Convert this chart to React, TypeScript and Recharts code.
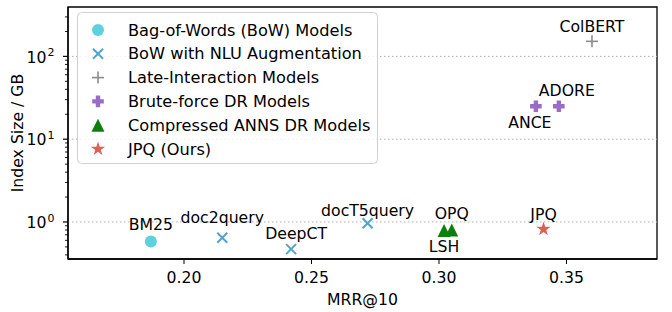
import React from 'react';
import {
  ScatterChart,
  Scatter,
  XAxis,
  YAxis,
  ReferenceLine,
  ReferenceArea,
  Legend,
} from 'recharts';

// values
const bowModels = ['BM25'];
const bowMrr = [0.187];
const bowIndexGB = [0.58];

const nluModels = ['doc2query', 'DeepCT', 'docT5query'];
const nluMrr = [0.215, 0.242, 0.272];
const nluIndexGB = [0.645, 0.47, 0.965];

const lateModels = ['ColBERT'];
const lateMrr = [0.36];
const lateIndexGB = [152];

const bruteModels = ['ANCE', 'ADORE'];
const bruteMrr = [0.338, 0.347];
const bruteIndexGB = [25, 25];

const annsModels = ['LSH', 'OPQ'];
const annsMrr = [0.302, 0.305];
const annsIndexGB = [0.79, 0.8];

const jpqModels = ['JPQ'];
const jpqMrr = [0.341];
const jpqIndexGB = [0.82];

const xTicks = [0.2, 0.25, 0.3, 0.35];
const yMajorTicks = [1, 10, 100];
const yMinorTicks = [0.4, 0.5, 0.6, 0.7, 0.8, 0.9, 2, 3, 4, 5, 6, 7, 8, 9, 20, 30, 40, 50, 60, 70, 80, 90, 200, 300];

const xDomain = [0.1545, 0.3855];
const yDomain = [0.357, 395];

const FONT = '"DejaVu Sans", sans-serif';
const FS = 15.7;
const LEGEND_FS = 16.2;

// where each annotation sits relative to its marker (px)
const labelNudge: { [name: string]: [number, number] } = {
  BM25: [0, -17.5],
  doc2query: [0, -20],
  DeepCT: [5, -16],
  docT5query: [0, -13],
  ColBERT: [0, -15],
  ANCE: [-6, 16.5],
  ADORE: [8, -15.5],
  LSH: [0, 16.5],
  OPQ: [0, -16],
  JPQ: [0, -14.5],
};

type Kind = 'circle' | 'x' | 'plus' | 'plusFilled' | 'triangle' | 'star';

const toPoints = (names: string[], xs: number[], ys: number[]) =>
  names.map((name, i) => ({ name, mrr: xs[i], size: ys[i] }));

const series = [
  { label: 'Bag-of-Words (BoW) Models', kind: 'circle' as Kind, color: '#5dd1dd', data: toPoints(bowModels, bowMrr, bowIndexGB) },
  { label: 'BoW with NLU Augmentation', kind: 'x' as Kind, color: '#4fa6c9', data: toPoints(nluModels, nluMrr, nluIndexGB) },
  { label: 'Late-Interaction Models', kind: 'plus' as Kind, color: '#8c8c8c', data: toPoints(lateModels, lateMrr, lateIndexGB) },
  { label: 'Brute-force DR Models', kind: 'plusFilled' as Kind, color: '#9a6dc4', data: toPoints(bruteModels, bruteMrr, bruteIndexGB) },
  { label: 'Compressed ANNS DR Models', kind: 'triangle' as Kind, color: '#0b800b', data: toPoints(annsModels, annsMrr, annsIndexGB) },
  { label: 'JPQ (Ours)', kind: 'star' as Kind, color: '#dd5f58', data: toPoints(jpqModels, jpqMrr, jpqIndexGB) },
];

function Marker({ kind, cx, cy, color }: { kind: Kind; cx: number; cy: number; color: string }) {
  switch (kind) {
    case 'circle':
      return <circle cx={cx} cy={cy} r={6} fill={color} />;
    case 'x': {
      const h = 5;
      return (
        <g stroke={color} strokeWidth={2}>
          <line x1={cx - h} y1={cy - h} x2={cx + h} y2={cy + h} />
          <line x1={cx - h} y1={cy + h} x2={cx + h} y2={cy - h} />
        </g>
      );
    }
    case 'plus': {
      const h = 6;
      return (
        <g stroke={color} strokeWidth={1.6}>
          <line x1={cx - h} y1={cy} x2={cx + h} y2={cy} />
          <line x1={cx} y1={cy - h} x2={cx} y2={cy + h} />
        </g>
      );
    }
    case 'plusFilled': {
      const a = 5.8;
      const b = 2.2;
      const pts = [
        [-b, -a], [b, -a], [b, -b], [a, -b], [a, b], [b, b],
        [b, a], [-b, a], [-b, b], [-a, b], [-a, -b], [-b, -b],
      ].map(([px, py]) => `${cx + px},${cy + py}`).join(' ');
      return <polygon points={pts} fill={color} />;
    }
    case 'triangle': {
      const h = 6.5;
      return <polygon points={`${cx},${cy - h} ${cx - h},${cy + h} ${cx + h},${cy + h}`} fill={color} />;
    }
    case 'star': {
      const R = 7.5;
      const r = R * 0.382;
      const pts: string[] = [];
      for (let i = 0; i < 10; i++) {
        const ang = (Math.PI / 5) * i - Math.PI / 2;
        const rad = i % 2 === 0 ? R : r;
        pts.push(`${cx + rad * Math.cos(ang)},${cy + rad * Math.sin(ang)}`);
      }
      return <polygon points={pts.join(' ')} fill={color} />;
    }
  }
  return null;
}

const makeShape = (kind: Kind, color: string) => (props: any) => {
  const { cx, cy, payload } = props;
  const nudge = labelNudge[payload.name] || [0, -15];
  return (
    <g>
      <Marker kind={kind} cx={cx} cy={cy} color={color} />
      <text
        x={cx + nudge[0]}
        y={cy + nudge[1]}
        textAnchor="middle"
        dominantBaseline="central"
        fontSize={FS}
        fontFamily={FONT}
        fill="#000"
      >
        {payload.name}
      </text>
    </g>
  );
};

const YTick = (props: any) => {
  const { x, y, payload } = props;
  const lg = Math.log10(payload.value);
  const exp = Math.round(lg);
  const major = Math.abs(lg - exp) < 1e-6;
  return (
    <g>
      <line x1={x - (major ? 5 : 3)} x2={x} y1={y} y2={y} stroke="#000" strokeWidth={major ? 1.2 : 0.9} />
      {major && (
        <text x={x - 21.5} y={y + 0.8} textAnchor="end" dominantBaseline="central" fontSize={FS} fontFamily={FONT} fill="#000">
          10
        </text>
      )}
      {major && (
        <text x={x - 20.5} y={y} textAnchor="start" fontSize={11} fontFamily={FONT} fill="#000">
          {exp}
        </text>
      )}
    </g>
  );
};

const LegendBox = () => {
  const rowH = 23.8;
  return (
    <svg width={302} height={153} style={{ display: 'block' }}>
      <rect x={0.5} y={0.5} width={300} height={151} rx={4} fill="#fff" fillOpacity={0.8} stroke="#d0d0d0" />
      {series.map((s, i) => {
        const cy = 18 + i * rowH;
        return (
          <g key={s.label}>
            <Marker kind={s.kind} cx={21} cy={cy} color={s.color} />
            <text x={51} y={cy} dominantBaseline="central" fontSize={LEGEND_FS} fontFamily={FONT} fill="#000">
              {s.label}
            </text>
          </g>
        );
      })}
    </svg>
  );
};

export default function App() {
  return (
    <div style={{ position: 'absolute', left: 0, top: 0, width: 672, height: 312, background: '#fff' }}>
      <ScatterChart width={672} height={312} margin={{ top: 7, right: 15, bottom: 23, left: 8 }} style={{ fontFamily: FONT }}>
        <XAxis
          type="number"
          dataKey="mrr"
          domain={xDomain}
          allowDataOverflow
          ticks={xTicks}
          interval={0}
          tickFormatter={(v: number) => v.toFixed(2)}
          tick={{ fontSize: FS, fill: '#000', fontFamily: FONT }}
          tickSize={5}
          tickMargin={8}
          tickLine={{ stroke: '#000' }}
          axisLine={{ stroke: '#000', strokeWidth: 1.3 }}
          height={30}
          label={{
            content: (p: any) => (
              <text
                x={p.viewBox.x + p.viewBox.width / 2}
                y={299}
                textAnchor="middle"
                dominantBaseline="central"
                fontSize={FS}
                fontFamily={FONT}
                fill="#000"
              >
                MRR@10
              </text>
            ),
          }}
        />
        <YAxis
          type="number"
          dataKey="size"
          scale="log"
          domain={yDomain}
          allowDataOverflow
          ticks={[...yMinorTicks, ...yMajorTicks].sort((a, b) => a - b)}
          interval={0}
          tick={<YTick />}
          tickSize={0}
          tickMargin={0}
          tickLine={false}
          axisLine={{ stroke: '#000', strokeWidth: 1.3 }}
          width={60}
          label={{
            content: (p: any) => {
              const cx = p.viewBox.x + 9;
              const cy = p.viewBox.y + p.viewBox.height / 2;
              return (
                <text
                  x={cx}
                  y={cy}
                  transform={`rotate(-90 ${cx} ${cy})`}
                  textAnchor="middle"
                  dominantBaseline="central"
                  fontSize={FS}
                  fontFamily={FONT}
                  fill="#000"
                >
                  Index Size / GB
                </text>
              );
            },
          }}
        />
        {yMajorTicks.map((t) => (
          <ReferenceLine key={t} y={t} stroke="#b0b0b0" strokeDasharray="1.5 2.5" strokeWidth={1} />
        ))}
        <ReferenceArea
          x1={xDomain[0]}
          x2={xDomain[1]}
          y1={yDomain[0]}
          y2={yDomain[1]}
          fill="none"
          stroke="#000"
          strokeWidth={1.3}
          ifOverflow="visible"
        />
        {series.map((s) => (
          <Scatter
            key={s.label}
            name={s.label}
            data={s.data}
            fill={s.color}
            shape={makeShape(s.kind, s.color)}
            isAnimationActive={false}
          />
        ))}
        <Legend
          layout="horizontal"
          verticalAlign="middle"
          align="center"
          content={() => <LegendBox />}
          wrapperStyle={{ left: 77, top: 12, width: 302, height: 153, margin: 0 }}
        />
      </ScatterChart>
    </div>
  );
}
